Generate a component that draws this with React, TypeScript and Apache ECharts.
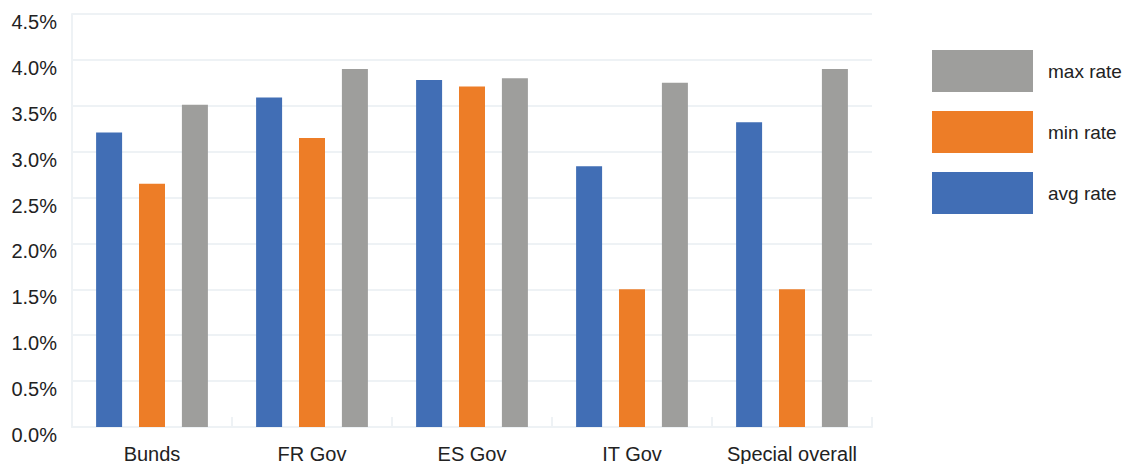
import React, { useEffect, useRef } from "react";
import * as echarts from "echarts";

const categories = ["Bunds", "FR Gov", "ES Gov", "IT Gov", "Special overall"];
const avgRate = [3.21, 3.59, 3.78, 2.84, 3.32];
const minRate = [2.65, 3.15, 3.71, 1.5, 1.5];
const maxRate = [3.51, 3.9, 3.8, 3.75, 3.9];
const seriesNames = ["avg rate", "min rate", "max rate"];
const legendOrder = ["max rate", "min rate", "avg rate"];
const colors = ["#416EB5", "#ED7D27", "#9E9E9C"];

export default function App() {
  const ref = useRef<HTMLDivElement>(null);
  useEffect(() => {
    if (!ref.current) return;
    const chart = echarts.init(ref.current, null, { renderer: "svg" });
    const font = "'Liberation Sans', Arial, Helvetica, sans-serif";
    const gridColor = "#EEF2F5";
    const data = [avgRate, minRate, maxRate];
    chart.setOption({
      animation: false,
      textStyle: { fontFamily: font },
      grid: { left: 72, right: 254, top: 14, bottom: 36, containLabel: false },
      legend: {
        data: legendOrder,
        orient: "vertical",
        left: 927,
        top: 45,
        itemWidth: 101,
        itemHeight: 42,
        itemGap: 19,
        icon: "rect",
        textStyle: { fontSize: 19, color: "#222", fontFamily: font, padding: [0, 0, 0, 10] },
      },
      xAxis: {
        type: "category",
        data: categories,
        axisLine: { show: true, lineStyle: { color: gridColor, width: 2 } },
        axisTick: { show: true, inside: true, length: 10, lineStyle: { color: gridColor, width: 2 } },
        axisLabel: { interval: 0, fontSize: 20, color: "#222", margin: 17, fontFamily: font },
      },
      yAxis: {
        type: "value",
        min: 0,
        max: 4.5,
        interval: 0.5,
        axisLine: { show: true, lineStyle: { color: gridColor, width: 2 } },
        axisTick: { show: false },
        splitLine: { show: true, lineStyle: { color: gridColor, width: 2 } },
        axisLabel: {
          fontSize: 20,
          color: "#222",
          margin: 15,
          fontFamily: font,
          verticalAlign: "top",
          lineHeight: 16,
          formatter: (v: number) => v.toFixed(1) + "%",
        },
      },
      series: seriesNames.map((name, i) => ({
        name,
        type: "bar",
        data: data[i],
        barWidth: 26,
        barGap: "65%",
        itemStyle: { color: colors[i] },
      })),
    });
    return () => chart.dispose();
  }, []);
  return (
    <div
      ref={ref}
      style={{ position: "absolute", left: 0, top: 0, width: 1126, height: 464 }}
    />
  );
}
